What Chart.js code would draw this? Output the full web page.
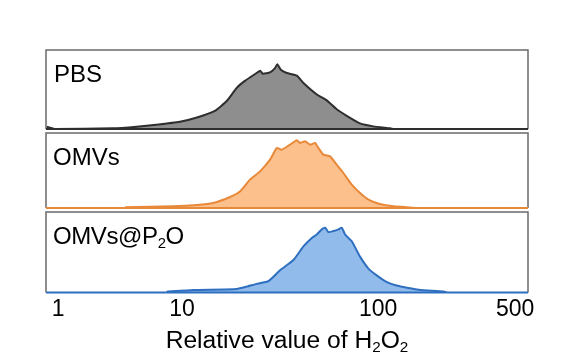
<!DOCTYPE html>
<html>
<head>
<meta charset="utf-8">
<script src="https://cdn.jsdelivr.net/npm/chart.js"></script>
<style>
  html, body { margin: 0; padding: 0; background: #fff; }
  #wrap { position: relative; width: 582px; height: 363px; font-family: "Liberation Sans", Arial, sans-serif; color: #000; }
  #wrap canvas { position: absolute; left: 0; top: 0; }
  .lbl { position: absolute; font-size: 24px; line-height: 1; white-space: nowrap; }
  .sub { font-size: 0.62em; position: relative; top: 0.28em; }
  #xtitle { position: absolute; left: 46px; width: 482px; top: 329px; text-align: center; font-size: 23px; line-height: 1; transform: scaleX(1.07); }
</style>
</head>
<body>
<div id="wrap">
  <canvas id="c1" width="582" height="363"></canvas>
  <canvas id="c2" width="582" height="363"></canvas>
  <canvas id="c3" width="582" height="363"></canvas>
  <div class="lbl" style="left:54px; top:62px;">PBS</div>
  <div class="lbl" style="left:53px; top:145px;">OMVs</div>
  <div class="lbl" style="left:53px; top:224px; letter-spacing:-0.4px;">OMVs@P<span class="sub">2</span>O</div>
  <div id="xtitle">Relative value of H<span class="sub">2</span>O<span class="sub">2</span></div>
</div>
<script>
// histogram traces (x = relative H2O2 value, y = cell count)
const pbsX = [0.81, 0.95, 2.8, 4.3, 6.2, 9.6, 11.9, 14.7, 16.9, 19.0, 21.0, 24.0, 25.0, 25.8, 28.1, 29.8, 30.6, 31.9, 34.2, 38.5, 41.6, 48.7, 54.7, 61.5, 69.2, 80.9, 94.6, 115, 120];
const pbsY = [7, 0, 2, 7, 13, 22, 35, 55, 85, 125, 147, 170, 177, 168, 172, 185, 197, 180, 170, 162, 140, 105, 87, 60, 40, 17, 8, 2, 0];
const omvX = [3.47, 8.5, 11.9, 14.4, 17.6, 19.8, 22.2, 25.0, 28.1, 30.4, 32.2, 34.9, 38.5, 40.0, 42.4, 45.0, 47.7, 49.6, 52.6, 56.9, 61.5, 66.5, 73.4, 80.9, 89.3, 102, 120, 151, 155];
const omvY = [2, 5, 9, 15, 33, 50, 85, 110, 145, 180, 175, 187, 203, 195, 200, 190, 195, 180, 160, 155, 130, 105, 70, 45, 25, 12, 5, 1, 0];
const p2oX = [7.5, 11.4, 19.0, 21.4, 24.0, 27.6, 31.6, 37.0, 41.6, 45.9, 48.7, 51.6, 53.7, 55.8, 59.2, 62.8, 65.3, 67.9, 73.4, 80.9, 89.3, 98.4, 111, 124, 146, 164, 215, 224];
const p2oY = [2, 7, 10, 17, 25, 33, 65, 95, 135, 160, 170, 185, 190, 177, 180, 185, 190, 170, 150, 105, 70, 50, 30, 20, 12, 7, 3, 0];

const tickValues = [1, 10, 100, 500];
const tickLabels = ['1', '10', '100', '500'];

// log axis whose first decade (1-10) is drawn narrower than the rest
const LOW_DECADE = 0.633;
function warp(v) {
  const u = Math.log10(v);
  return u >= 1 ? u : 1 - (1 - u) * LOW_DECADE;
}
class CompressedLogScale extends Chart.LogarithmicScale {
  getPixelForValue(value) {
    const a = warp(this.min), b = warp(this.max);
    return this.getPixelForDecimal((warp(value) - a) / (b - a));
  }
  getValueForPixel(pixel) {
    const a = warp(this.min), b = warp(this.max);
    const w = a + this.getDecimalForPixel(pixel) * (b - a);
    const u = w >= 1 ? w : 1 - (1 - w) / LOW_DECADE;
    return Math.pow(10, u);
  }
}
CompressedLogScale.id = 'compressedLog';
CompressedLogScale.defaults = Chart.LogarithmicScale.defaults;
Chart.register(CompressedLogScale);

const boxPlugin = {
  id: 'box',
  afterDatasetsDraw(chart) {
    const a = chart.chartArea, ctx = chart.ctx;
    ctx.save();
    ctx.lineWidth = 1.5;
    ctx.strokeStyle = '#6a6a6a';
    ctx.beginPath();
    ctx.moveTo(a.left, a.bottom);
    ctx.lineTo(a.left, a.top);
    ctx.lineTo(a.right, a.top);
    ctx.lineTo(a.right, a.bottom);
    ctx.stroke();
    ctx.strokeStyle = chart.data.datasets[0].borderColor;
    ctx.lineWidth = 2;
    ctx.beginPath();
    ctx.moveTo(a.left, a.bottom);
    ctx.lineTo(a.right, a.bottom);
    ctx.stroke();
    ctx.restore();
  }
};

function makePanel(id, xs, ys, yMax, line, fill, padTop, padBottom, showAxis) {
  const points = xs.map((x, i) => ({ x: x, y: ys[i] }));
  return new Chart(document.getElementById(id), {
    type: 'line',
    data: {
      datasets: [{
        data: points,
        borderColor: line,
        backgroundColor: fill,
        borderWidth: 2,
        pointRadius: 0,
        fill: 'origin',
        tension: 0.15
      }]
    },
    options: {
      responsive: false,
      animation: false,
      devicePixelRatio: 1,
      layout: { padding: { left: 46, right: 54, top: padTop, bottom: padBottom } },
      plugins: { legend: { display: false }, tooltip: { enabled: false } },
      scales: {
        x: {
          type: 'compressedLog',
          min: 0.8,
          max: 582,
          display: showAxis,
          grid: { display: false, drawTicks: false },
          border: { display: false },
          afterBuildTicks: function(scale) {
            scale.ticks = tickValues.map(v => ({ value: v }));
          },
          ticks: {
            autoSkip: false,
            maxRotation: 0,
            padding: 3,
            color: '#000',
            font: { family: '"Liberation Sans", Arial, sans-serif', size: 23 },
            callback: function(value, i) { return tickLabels[i]; }
          }
        },
        y: { display: false, min: 0, max: yMax }
      }
    },
    plugins: [boxPlugin]
  });
}

makePanel('c1', pbsX, pbsY, 240, '#2e2e2e', '#8e8e8e', 50, 234, false);
makePanel('c2', omvX, omvY, 225, '#e8893a', '#fbc08c', 133, 155, false);
makePanel('c3', p2oX, p2oY, 236, '#2f6fbf', '#90bbea', 212, 37, true);
</script>
</body>
</html>
